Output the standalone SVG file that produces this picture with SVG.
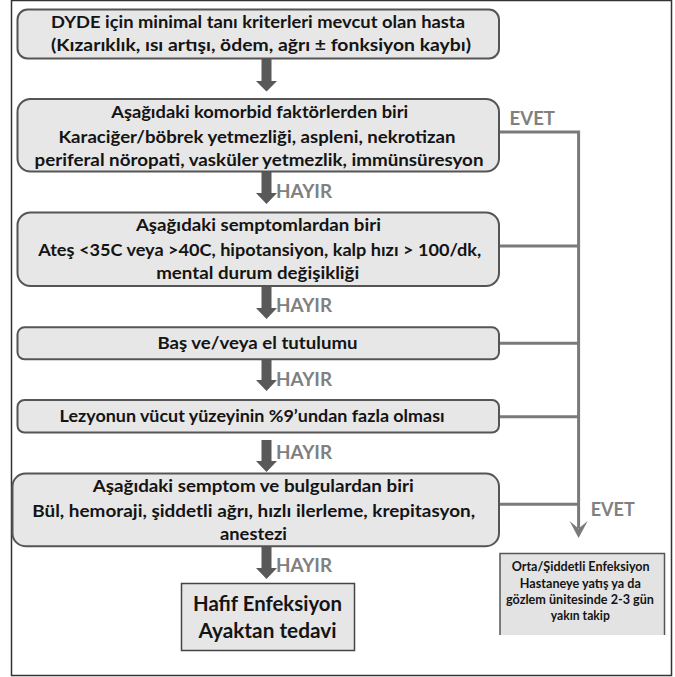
<svg xmlns="http://www.w3.org/2000/svg" width="675" height="677" viewBox="0 0 675 677">
<style>
.bx{fill:#e7e7e7;stroke:#555;stroke-width:2}
.t{font-family:Lato,"Open Sans","Liberation Sans",sans-serif;font-weight:700;font-size:17.5px;fill:#141414;text-anchor:middle}
.lbl{font-family:Lato,"Open Sans","Liberation Sans",sans-serif;font-weight:700;font-size:19.5px;fill:#808080}
.big{font-size:21px}
.sm{font-size:13px}
.arr{fill:#595959}
.ln{fill:none;stroke:#7a7a7a;stroke-width:3}
</style>
<rect x="0" y="0" width="675" height="677" fill="#ffffff"/>
<rect x="11.5" y="0.5" width="660" height="675" fill="none" stroke="#333" stroke-width="1.5"/>

<g id="connectors">
  <polygon class="arr" points="261.5,59 271.5,59 271.5,81 277,81 266.5,91.5 256,81 261.5,81"/>
  <polygon class="arr" points="261.5,172 271.5,172 271.5,193 277,193 266.5,204 256,193 261.5,193"/>
  <polygon class="arr" points="261.5,286 271.5,286 271.5,308 277,308 266.5,319 256,308 261.5,308"/>
  <polygon class="arr" points="261.5,360 271.5,360 271.5,380 277,380 266.5,391 256,380 261.5,380"/>
  <polygon class="arr" points="261.5,440 271.5,440 271.5,461 277,461 266.5,472 256,461 261.5,461"/>
  <polygon class="arr" points="261.5,547 271.5,547 271.5,568 277,568 266.5,579 256,568 261.5,568"/>
  <text class="lbl" x="276" y="198" textLength="56" lengthAdjust="spacingAndGlyphs">HAYIR</text>
  <text class="lbl" x="276" y="312" textLength="56" lengthAdjust="spacingAndGlyphs">HAYIR</text>
  <text class="lbl" x="276" y="386" textLength="56" lengthAdjust="spacingAndGlyphs">HAYIR</text>
  <text class="lbl" x="276" y="459" textLength="56" lengthAdjust="spacingAndGlyphs">HAYIR</text>
  <text class="lbl" x="276" y="572" textLength="56" lengthAdjust="spacingAndGlyphs">HAYIR</text>
  <polyline class="ln" points="499,132 578.6,132 578.6,528"/>
  <line class="ln" x1="499" y1="246" x2="578.6" y2="246"/>
  <line class="ln" x1="499" y1="343.3" x2="578.6" y2="343.3"/>
  <line class="ln" x1="499" y1="416.7" x2="578.6" y2="416.7"/>
  <line class="ln" x1="499" y1="504.3" x2="578.6" y2="504.3"/>
  <polygon fill="#7a7a7a" points="569.5,521 578.6,528.5 587.7,521 578.6,538"/>
  <text class="lbl" x="509.5" y="125" textLength="45.5" lengthAdjust="spacingAndGlyphs">EVET</text>
  <text class="lbl" x="590.7" y="516" textLength="44" lengthAdjust="spacingAndGlyphs">EVET</text>
</g>

<g id="n1">
  <rect class="bx" x="17.5" y="9.5" width="481.5" height="49" rx="10"/>
  <text class="t" x="258" y="28" textLength="414" lengthAdjust="spacingAndGlyphs">DYDE için minimal tanı kriterleri mevcut olan hasta</text>
  <text class="t" x="261" y="50.5" textLength="420" lengthAdjust="spacingAndGlyphs">(Kızarıklık, ısı artışı, ödem, ağrı ± fonksiyon kaybı)</text>
</g>
<g id="n2">
  <rect class="bx" x="17.5" y="99" width="481.5" height="72.5" rx="13"/>
  <text class="t" x="259.7" y="118" textLength="297" lengthAdjust="spacingAndGlyphs">Aşağıdaki komorbid faktörlerden biri</text>
  <text class="t" x="256.9" y="142.5" textLength="397" lengthAdjust="spacingAndGlyphs">Karaciğer/böbrek yetmezliği, aspleni, nekrotizan</text>
  <text class="t" x="259" y="166" textLength="449" lengthAdjust="spacingAndGlyphs">periferal nöropati, vasküler yetmezlik, immünsüresyon</text>
</g>
<g id="n3">
  <rect class="bx" x="17.5" y="212.5" width="481.5" height="73.5" rx="13"/>
  <text class="t" x="258.4" y="231" textLength="245" lengthAdjust="spacingAndGlyphs">Aşağıdaki semptomlardan biri</text>
  <text class="t" x="259.7" y="255.6" textLength="443" lengthAdjust="spacingAndGlyphs">Ateş &lt;35C veya &gt;40C, hipotansiyon, kalp hızı &gt; 100/dk,</text>
  <text class="t" x="257.7" y="278.5" textLength="203" lengthAdjust="spacingAndGlyphs">mental durum değişikliği</text>
</g>
<g id="n4">
  <rect class="bx" x="17.5" y="327.3" width="481.5" height="32" rx="7"/>
  <text class="t" x="257.5" y="349" textLength="200" lengthAdjust="spacingAndGlyphs">Baş ve/veya el tutulumu</text>
</g>
<g id="n5">
  <rect class="bx" x="17.5" y="400" width="481.5" height="32.6" rx="7"/>
  <text class="t" x="252.1" y="422.3" textLength="385" lengthAdjust="spacingAndGlyphs">Lezyonun vücut yüzeyinin %9’undan fazla olması</text>
</g>
<g id="n6">
  <rect class="bx" x="12.5" y="473.6" width="486.5" height="72.6" rx="13"/>
  <text class="t" x="253.2" y="492.2" textLength="321" lengthAdjust="spacingAndGlyphs">Aşağıdaki semptom ve bulgulardan biri</text>
  <text class="t" x="253.7" y="516.8" textLength="443" lengthAdjust="spacingAndGlyphs">Bül, hemoraji, şiddetli ağrı, hızlı ilerleme, krepitasyon,</text>
  <text class="t" x="253.5" y="539.7" textLength="67" lengthAdjust="spacingAndGlyphs">anestezi</text>
</g>
<g id="n7">
  <rect x="181.5" y="583.5" width="173" height="67" fill="#e6e6e6" stroke="#444" stroke-width="1.5"/>
  <text class="t big" x="267.5" y="611" textLength="149" lengthAdjust="spacingAndGlyphs">Hafif Enfeksiyon</text>
  <text class="t big" x="267.5" y="638.3" textLength="138" lengthAdjust="spacingAndGlyphs">Ayaktan tedavi</text>
</g>
<g id="n8">
  <rect x="500" y="553.5" width="164.5" height="81.5" fill="#e3e3e3"/>
  <polyline points="500,635 500,553.5 664.5,553.5 664.5,635" fill="none" stroke="#555" stroke-width="1.5"/>
  <text class="t sm" x="580.7" y="571.3" textLength="138" lengthAdjust="spacingAndGlyphs">Orta/Şiddetli Enfeksiyon</text>
  <text class="t sm" x="580.3" y="587.5" textLength="121" lengthAdjust="spacingAndGlyphs">Hastaneye yatış ya da</text>
  <text class="t sm" x="580" y="603.5" textLength="148" lengthAdjust="spacingAndGlyphs">gözlem ünitesinde 2-3 gün</text>
  <text class="t sm" x="580.3" y="619.5" textLength="59" lengthAdjust="spacingAndGlyphs">yakın takip</text>
</g>
</svg>
